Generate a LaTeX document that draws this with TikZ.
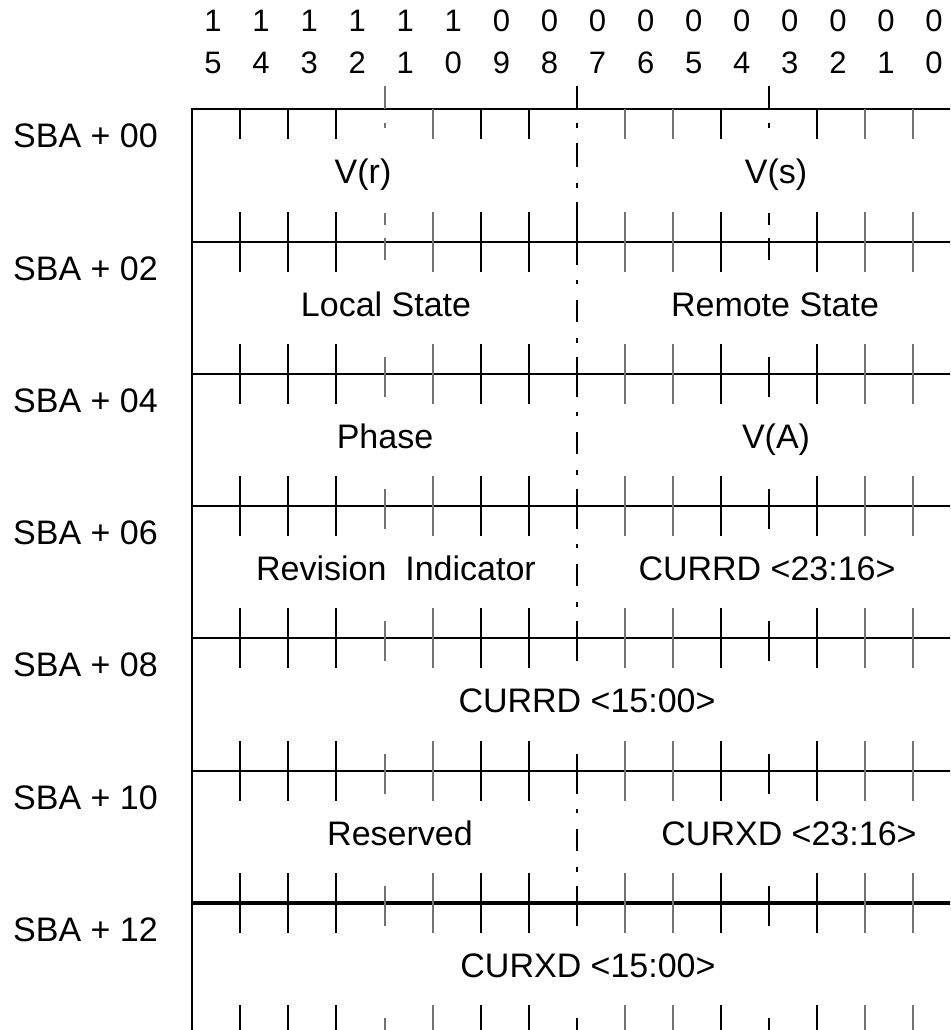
\documentclass[tikz,border=0pt]{standalone}
\usepackage{fontspec}
\setmainfont{Liberation Sans}
\begin{document}
\begin{tikzpicture}[x=1pt,y=-1pt,
  hline/.style={line width=1.7pt,black},
  heavyline/.style={line width=3.6pt,black},
  tickb/.style={line width=1.3pt,black},
  tickg/.style={line width=1.3pt,black!55},
  midb/.style={line width=1.6pt,black},
  hdr/.style={anchor=base,inner sep=0pt,font=\fontsize{31}{34}\selectfont},
  txt/.style={anchor=base,inner sep=0pt,font=\fontsize{34}{38}\selectfont}]
\useasboundingbox (0,0) rectangle (950,1030);
\clip (0,0) rectangle (950,1030);
% header digits
\foreach \b in {0,...,15} {
  \pgfmathtruncatemacro\hi{\b/10}
  \pgfmathtruncatemacro\lo{mod(\b,10)}
  \pgfmathsetmacro\xx{213+48.07*(15-\b)}
  \node[hdr] (hi\b) at (\xx,32) {\hi};
  \node[hdr] (lo\b) at (\xx,74) {\lo};
}
% frame lines
\foreach \y in {109,242,374,506,638,771} \draw[hline] (192,\y) -- (960,\y);
\draw[heavyline] (192,903) -- (960,903);
\draw[hline] (192,108.2) -- (192,1031);
% above-top ticks
\draw[tickg] (385,86) -- (385,109);
\draw[midb] (577,86) -- (577,109);
\draw[tickb] (769,86) -- (769,109);
% regular ticks
\foreach \x/\s in {240/tickb,288/tickb,336/tickb,433/tickg,481/tickb,529/tickb,625/tickg,673/tickg,721/tickb,817/tickb,865/tickg,913/tickg} {
  \draw[\s] (\x,109) -- (\x,139);
  \foreach \y in {242,374,506,638,771,903,1035} \draw[\s] (\x,\y-30) -- (\x,\y+30);
}
% nibble ticks
\foreach \x/\s in {385/tickg,769/tickb} {
  \draw[\s] (\x,123) -- (\x,128);
  \draw[\s] (\x,213) -- (\x,225);
  \draw[\s] (\x,238) -- (\x,260);
  \foreach \y in {374,506,638,771,903,1035} \draw[\s] (\x,\y-17) -- (\x,\y+23);
}
% byte boundary (dash-dot in split rows)
\draw[midb] (577,123) -- (577,128);
\draw[midb] (577,143) -- (577,167);
\draw[midb] (577,183) -- (577,188);
\draw[midb] (577,202) -- (577,225);
\foreach \y in {242,374,506,638,771,903,1035} \draw[midb] (577,\y-17) -- (577,\y+23);
\foreach \t in {242,374,506,771} {
  \draw[midb] (577,\t+38) -- (577,\t+42);
  \draw[midb] (577,\t+58) -- (577,\t+80);
  \draw[midb] (577,\t+96) -- (577,\t+101);
}
% address labels
\node[txt,anchor=base west] (a00) at (13,147) {SBA + 00};
\node[txt,anchor=base west] (a02) at (13,280) {SBA + 02};
\node[txt,anchor=base west] (a04) at (13,412) {SBA + 04};
\node[txt,anchor=base west] (a06) at (13,544) {SBA + 06};
\node[txt,anchor=base west] (a08) at (13,676) {SBA + 08};
\node[txt,anchor=base west] (a10) at (13,809) {SBA + 10};
\node[txt,anchor=base west] (a12) at (13,941) {SBA + 12};
% field texts
\node[txt] (vr) at (363,183) {V(r)};
\node[txt] (vs) at (776,183) {V(s)};
\node[txt] (ls) at (386,316) {Local State};
\node[txt] (rs) at (775,316) {Remote State};
\node[txt] (ph) at (385,448) {Phase};
\node[txt] (va) at (776,448) {V(A)};
\node[txt] (ri) at (396,580) {Revision\ \ Indicator};
\node[txt] (cd1) at (767,580) {CURRD <23:16>};
\node[txt] (cd0) at (587,712) {CURRD <15:00>};
\node[txt] (rv) at (400,845) {Reserved};
\node[txt] (cx1) at (789,845) {CURXD <23:16>};
\node[txt] (cx0) at (588,977) {CURXD <15:00>};
\end{tikzpicture}
\end{document}
